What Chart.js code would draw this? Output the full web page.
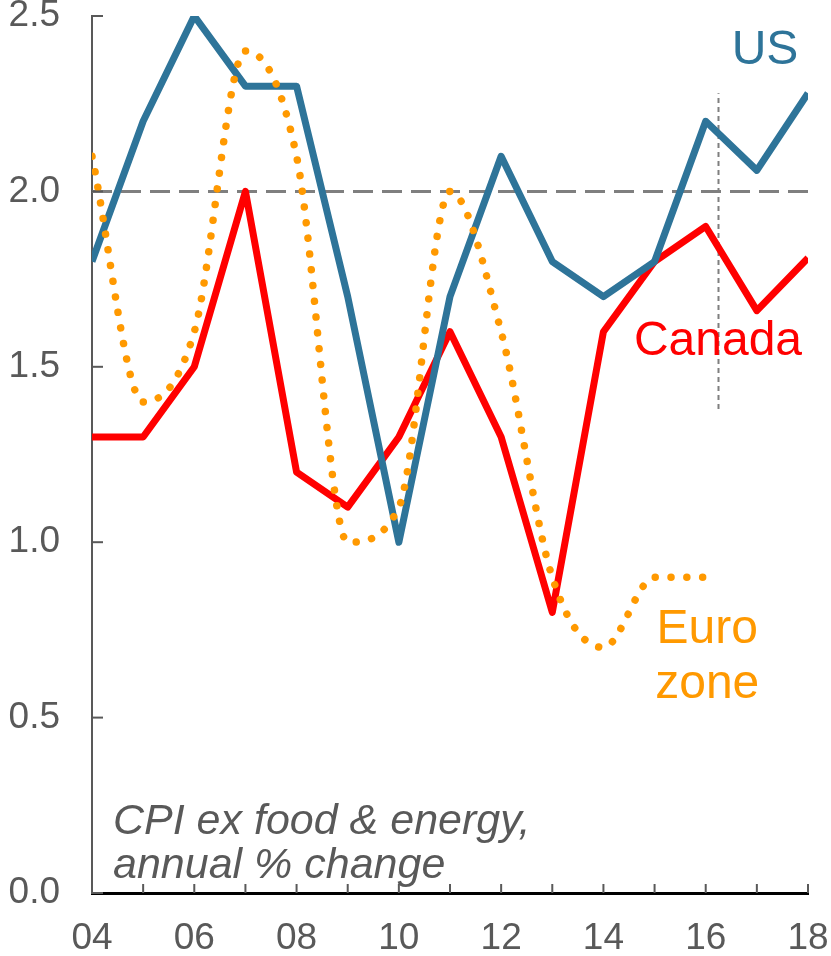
<!DOCTYPE html>
<html>
<head>
<meta charset="utf-8">
<script src="https://cdn.jsdelivr.net/npm/chart.js@4.4.1/dist/chart.umd.min.js"></script>
<style>
  html, body { margin: 0; padding: 0; background: #fff; }
  #wrap { width: 831px; height: 956px; }
</style>
</head>
<body>
<div id="wrap"><canvas id="chart" width="831" height="956"></canvas></div>
<script>
// core CPI, annual % change
const years = [2004, 2005, 2006, 2007, 2008, 2009, 2010, 2011, 2012, 2013, 2014, 2015, 2016, 2017, 2018];
const usCore = [1.8, 2.2, 2.5, 2.3, 2.3, 1.7, 1.0, 1.7, 2.1, 1.8, 1.7, 1.8, 2.2, 2.06, 2.28];
const canadaCore = [1.3, 1.3, 1.5, 2.0, 1.2, 1.1, 1.3, 1.6, 1.3, 0.8, 1.6, 1.8, 1.9, 1.66, 1.81];
const euroCore = [2.1, 1.4, 1.6, 2.4, 2.1, 1.0, 1.1, 2.0, 1.6, 0.9, 0.7, 0.9, 0.9];
const yTicks = [0, 0.5, 1.0, 1.5, 2.0, 2.5];

const target = 2.0;
const forecastStart = 2016.25;
const forecastRange = [1.38, 2.28];

const GRAY = "#595959";
const FONT = "'Liberation Sans', Arial, sans-serif";

function pts(values) {
    return values.map((v, i) => ({ x: years[i], y: v }));
}

// text labels placed in data units
const labels = [
    { text: "US", x: 2017.16, y: 2.40, color: "#2E7499", font: "48px " + FONT, align: "center" },
    { text: "Canada", x: 2016.24, y: 1.57, color: "#FF0000", font: "48px " + FONT, align: "center" },
    { text: "Euro", x: 2016.03, y: 0.75, color: "#FF9900", font: "48px " + FONT, align: "center" },
    { text: "zone", x: 2016.03, y: 0.593, color: "#FF9900", font: "48px " + FONT, align: "center" },
    { text: "CPI ex food & energy,", x: 2004.41, y: 0.202, color: GRAY, font: "italic 43px " + FONT, align: "left" },
    { text: "annual % change", x: 2004.41, y: 0.077, color: GRAY, font: "italic 43px " + FONT, align: "left" }
];

const decor = {
    id: "decor",
    afterDatasetsDraw(chart) {
        const ctx = chart.ctx;
        const x = chart.scales.x;
        const y = chart.scales.y;
        ctx.save();

        // inward tick marks
        ctx.strokeStyle = GRAY;
        ctx.lineWidth = 2;
        years.forEach(yr => {
            const px = x.getPixelForValue(yr);
            ctx.beginPath();
            ctx.moveTo(px, y.bottom);
            ctx.lineTo(px, y.bottom - 9);
            ctx.stroke();
        });
        yTicks.forEach(v => {
            const py = y.getPixelForValue(v);
            ctx.beginPath();
            ctx.moveTo(x.left, py);
            ctx.lineTo(x.left + 11, py);
            ctx.stroke();
        });

        // text
        ctx.textBaseline = "middle";
        labels.forEach(l => {
            ctx.font = l.font;
            ctx.fillStyle = l.color;
            ctx.textAlign = l.align;
            ctx.fillText(l.text, x.getPixelForValue(l.x), y.getPixelForValue(l.y));
        });
        ctx.restore();
    }
};

function noPad(scale) {
    scale.paddingTop = 0;
    scale.paddingBottom = 0;
    scale.paddingLeft = 0;
    scale.paddingRight = 0;
}

new Chart(document.getElementById("chart"), {
    type: "line",

    data: {
        datasets: [
            {
                label: "Euro zone",
                data: pts(euroCore),
                borderColor: "#FF9900",
                borderWidth: 7.5,
                borderDash: [0.01, 15.8],
                borderCapStyle: "round",
                cubicInterpolationMode: "monotone",
                pointRadius: 0,
                order: 0
            },
            {
                label: "US",
                data: pts(usCore),
                borderColor: "#2E7499",
                borderWidth: 7,
                borderJoinStyle: "round",
                tension: 0,
                pointRadius: 0,
                order: 1
            },
            {
                label: "Canada",
                data: pts(canadaCore),
                borderColor: "#FF0000",
                borderWidth: 7,
                borderJoinStyle: "round",
                tension: 0,
                pointRadius: 0,
                order: 2
            },
            {
                label: "target",
                data: [{ x: years[0], y: target }, { x: years[years.length - 1], y: target }],
                borderColor: "#7F7F7F",
                borderWidth: 3,
                borderDash: [20, 9],
                pointRadius: 0,
                order: 3
            },
            {
                label: "forecast",
                data: [{ x: forecastStart, y: forecastRange[0] }, { x: forecastStart, y: forecastRange[1] }],
                borderColor: "#7F7F7F",
                borderWidth: 2,
                borderDash: [5, 4],
                pointRadius: 0,
                order: 4
            }
        ]
    },

    options: {
        responsive: false,
        animation: false,
        layout: {
            padding: { top: 16, right: 23, left: 0, bottom: 0 }
        },
        plugins: {
            legend: { display: false },
            tooltip: { enabled: false }
        },
        scales: {
            x: {
                type: "linear",
                min: 2004,
                max: 2018,
                afterFit(scale) { scale.height = 63; noPad(scale); },
                grid: { display: false, drawTicks: false },
                border: { display: true, color: "#000000", width: 3 },
                ticks: {
                    stepSize: 1,
                    autoSkip: false,
                    maxRotation: 0,
                    padding: 24,
                    color: GRAY,
                    font: { family: FONT, size: 37 },
                    callback: v => (v % 2 === 0 ? String(v % 100).padStart(2, "0") : "")
                }
            },
            y: {
                min: 0,
                max: 2.5,
                afterFit(scale) { scale.width = 92; noPad(scale); },
                grid: { display: false, drawTicks: false },
                border: { display: true, color: GRAY, width: 2 },
                ticks: {
                    stepSize: 0.5,
                    padding: 32,
                    color: GRAY,
                    font: { family: FONT, size: 37 },
                    callback: v => v.toFixed(1)
                }
            }
        }
    },

    plugins: [decor]
});
</script>
</body>
</html>
